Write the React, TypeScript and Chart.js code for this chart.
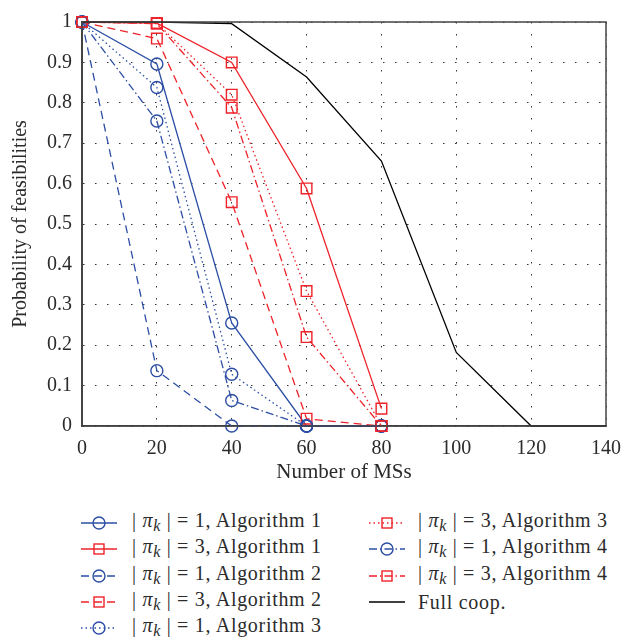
import React, { useEffect, useRef } from "react";
import { Chart, registerables } from "chart.js";

Chart.register(...registerables);

const xValues = [0, 20, 40, 60, 80];
const alg1Pi1 = [1, 0.896, 0.255, 0, 0];
const alg1Pi3 = [1, 0.997, 0.9, 0.588, 0.043];
const alg2Pi1 = [1, 0.137, 0, 0, 0];
const alg2Pi3 = [1, 0.959, 0.554, 0.018, 0];
const alg3Pi1 = [1, 0.838, 0.128, 0, 0];
const alg3Pi3 = [1, 0.997, 0.82, 0.334, 0];
const alg4Pi1 = [1, 0.755, 0.063, 0, 0];
const alg4Pi3 = [1, 0.996, 0.788, 0.22, 0];
const coopX = [0, 20, 40, 60, 80, 100, 120, 140];
const fullCoop = [1, 1, 0.996, 0.864, 0.656, 0.182, 0, 0];

const BLUE = "rgb(44,78,164)";
const RED = "rgb(238,34,40)";
const BLACK = "#000";

const SOLID: number[] = [];
const DASHED = [8, 5];
const DOTTED = [1.5, 3];
const DASHDOT = [8, 3, 1.5, 3];

type Series = {
  label: string;
  pi: number;
  alg: string;
  values: number[];
  xs: number[];
  color: string;
  dash: number[];
  marker: "circle" | "rect" | "none";
};

const series: Series[] = [
  { label: "| πk | = 1, Algorithm 1", pi: 1, alg: "Algorithm 1", values: alg1Pi1, xs: xValues, color: BLUE, dash: SOLID, marker: "circle" },
  { label: "| πk | = 3, Algorithm 1", pi: 3, alg: "Algorithm 1", values: alg1Pi3, xs: xValues, color: RED, dash: SOLID, marker: "rect" },
  { label: "| πk | = 1, Algorithm 2", pi: 1, alg: "Algorithm 2", values: alg2Pi1, xs: xValues, color: BLUE, dash: DASHED, marker: "circle" },
  { label: "| πk | = 3, Algorithm 2", pi: 3, alg: "Algorithm 2", values: alg2Pi3, xs: xValues, color: RED, dash: DASHED, marker: "rect" },
  { label: "| πk | = 1, Algorithm 3", pi: 1, alg: "Algorithm 3", values: alg3Pi1, xs: xValues, color: BLUE, dash: DOTTED, marker: "circle" },
  { label: "| πk | = 3, Algorithm 3", pi: 3, alg: "Algorithm 3", values: alg3Pi3, xs: xValues, color: RED, dash: DOTTED, marker: "rect" },
  { label: "| πk | = 1, Algorithm 4", pi: 1, alg: "Algorithm 4", values: alg4Pi1, xs: xValues, color: BLUE, dash: DASHDOT, marker: "circle" },
  { label: "| πk | = 3, Algorithm 4", pi: 3, alg: "Algorithm 4", values: alg4Pi3, xs: xValues, color: RED, dash: DASHDOT, marker: "rect" },
  { label: "Full coop.", pi: 0, alg: "", values: fullCoop, xs: coopX, color: BLACK, dash: SOLID, marker: "none" },
];

const FONT = "'Liberation Serif', 'DejaVu Serif', serif";
const TEXT = "#2b2b2b";

const framePlugin = {
  id: "frame",
  afterDraw(chart: any) {
    const { ctx, chartArea } = chart;
    ctx.save();
    ctx.strokeStyle = "#444";
    ctx.lineWidth = 1.5;
    ctx.setLineDash([]);
    ctx.strokeRect(chartArea.left, chartArea.top, chartArea.right - chartArea.left, chartArea.bottom - chartArea.top);
    ctx.restore();
  },
};

function LegendSample({ s }: { s: Series }) {
  const w = 38;
  const h = 20;
  const cy = h / 2;
  return (
    <svg width={w} height={h} style={{ display: "block" }}>
      <line
        x1={1}
        y1={cy}
        x2={w - 1}
        y2={cy}
        stroke={s.color}
        strokeWidth={1.3}
        strokeDasharray={s.dash.length ? s.dash.join(" ") : undefined}
      />
      {s.marker === "circle" && <circle cx={w / 2} cy={cy} r={6} fill="none" stroke={s.color} strokeWidth={1.4} />}
      {s.marker === "rect" && <rect x={w / 2 - 5} y={cy - 5} width={10} height={10} fill="none" stroke={s.color} strokeWidth={1.4} />}
    </svg>
  );
}

function LegendLabel({ s }: { s: Series }) {
  if (!s.alg) return <span>{s.label}</span>;
  return (
    <span>
      |&nbsp;<i>π</i>
      <sub style={{ fontSize: "0.8em", verticalAlign: "-0.25em" }}>
        <i>k</i>
      </sub>
      &nbsp;| = {s.pi}, {s.alg}
    </span>
  );
}

export default function App() {
  const canvasRef = useRef<HTMLCanvasElement | null>(null);

  useEffect(() => {
    if (!canvasRef.current) return;
    const datasets = [...series].reverse().map((s) => ({
      label: s.label,
      data: s.values.map((v, i) => ({ x: s.xs[i], y: v })),
      borderColor: s.color,
      backgroundColor: "transparent",
      borderWidth: 1.3,
      borderDash: s.dash,
      pointStyle: s.marker === "none" ? false : s.marker,
      pointRadius: s.marker === "rect" ? 7.5 : s.marker === "circle" ? 6 : 0,
      pointBorderColor: s.color,
      pointBackgroundColor: "transparent",
      pointBorderWidth: 1.4,
      tension: 0,
      fill: false,
    }));

    const chart = new Chart(canvasRef.current, {
      type: "line",
      data: { datasets: datasets as any },
      options: {
        responsive: false,
        animation: false,
        clip: false as any,
        layout: { padding: { top: 13, right: 29, left: 0, bottom: 0 } },
        plugins: {
          legend: { display: false },
          tooltip: { enabled: false },
        },
        scales: {
          x: {
            type: "linear",
            min: 0,
            max: 140,
            ticks: {
              stepSize: 20,
              color: TEXT,
              font: { family: FONT, size: 20 },
              padding: 11,
              maxRotation: 0,
            },
            grid: { color: "#333", lineWidth: 1, drawTicks: false },
            border: { display: true, color: "#333", width: 1.5, dash: [1.5, 10.5] },
            title: {
              display: true,
              text: "Number of MSs",
              color: TEXT,
              font: { family: FONT, size: 21 },
              padding: { top: 0, bottom: 5 },
            },
            afterFit(scale: any) {
              scale.height = 64;
            },
          },
          y: {
            type: "linear",
            min: 0,
            max: 1,
            ticks: {
              stepSize: 0.1,
              color: TEXT,
              font: { family: FONT, size: 20 },
              padding: 10,
              callback: (v: any) => String(Number(Number(v).toFixed(1))),
            },
            grid: { color: "#333", lineWidth: 1, drawTicks: false },
            border: { display: true, color: "#444", width: 2, dash: [1.5, 10.5] },
            title: {
              display: true,
              text: "Probability of feasibilities",
              color: TEXT,
              font: { family: FONT, size: 20 },
              padding: { top: 9, bottom: 0 },
            },
            afterFit(scale: any) {
              scale.width = 82;
            },
          },
        },
      },
      plugins: [framePlugin],
    });
    return () => chart.destroy();
  }, []);

  const col1 = series.slice(0, 5);
  const col2 = series.slice(5);
  const rowY = [523, 549, 576, 602, 628];

  const textStyle: React.CSSProperties = {
    fontSize: 20,
    letterSpacing: "0.7px",
    lineHeight: "20px",
    whiteSpace: "nowrap",
  };

  return (
    <div
      style={{
        position: "fixed",
        left: 0,
        top: 0,
        width: 635,
        height: 642,
        background: "#fff",
        fontFamily: FONT,
        color: TEXT,
      }}
    >
      <canvas ref={canvasRef} width={635} height={490} style={{ display: "block", width: 635, height: 490 }} />
      {col1.map((s, i) => (
        <div key={s.label} style={{ position: "absolute", left: 80, top: rowY[i] - 10, height: 20, display: "flex", alignItems: "center" }}>
          <LegendSample s={s} />
          <div style={{ ...textStyle, marginLeft: 14 }}>
            <LegendLabel s={s} />
          </div>
        </div>
      ))}
      {col2.map((s, i) => (
        <div key={s.label} style={{ position: "absolute", left: 368, top: rowY[i] - 10, height: 20, display: "flex", alignItems: "center" }}>
          <LegendSample s={s} />
          <div style={{ ...textStyle, marginLeft: 12 }}>
            <LegendLabel s={s} />
          </div>
        </div>
      ))}
    </div>
  );
}
